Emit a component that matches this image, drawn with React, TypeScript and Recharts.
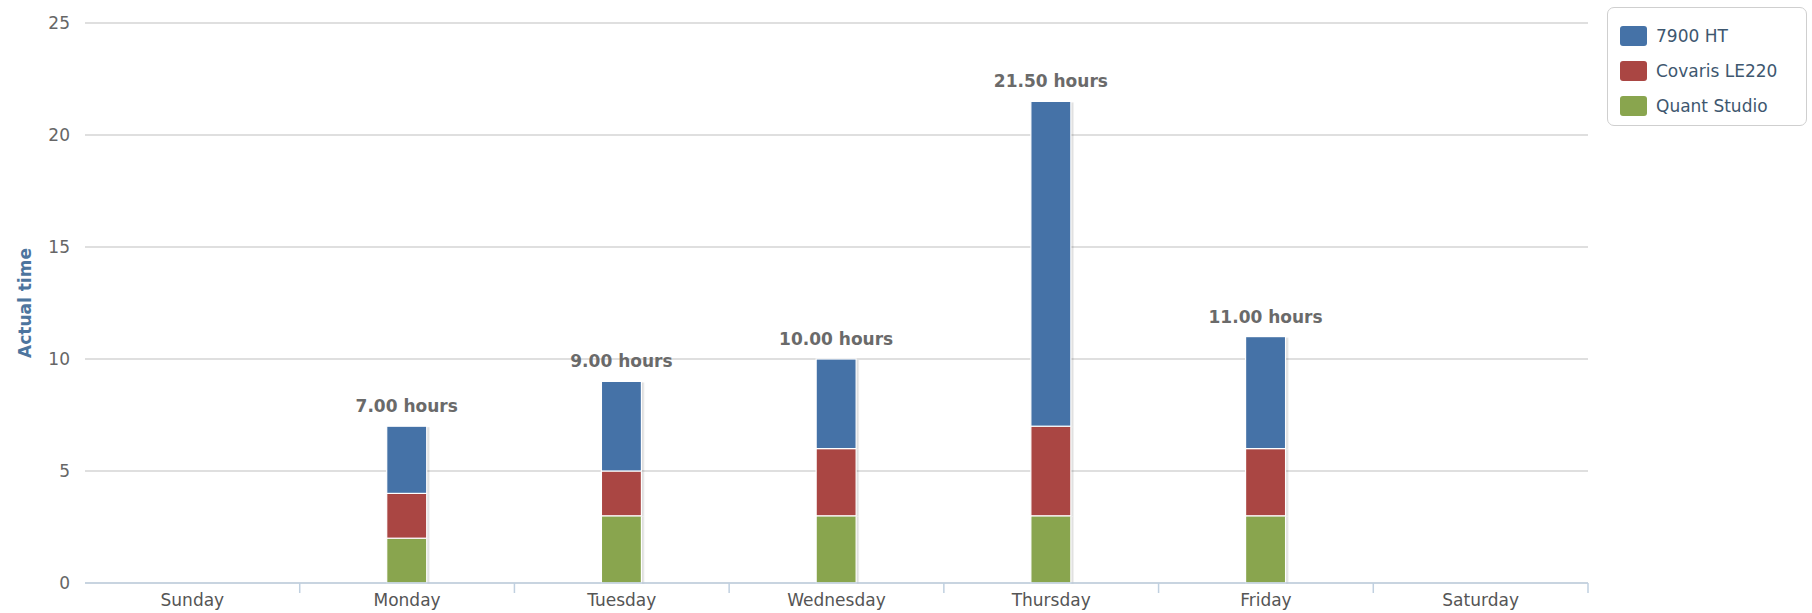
import React from 'react';
import { BarChart, Bar, XAxis, YAxis, CartesianGrid, LabelList, Label } from 'recharts';

const days = ['Sunday', 'Monday', 'Tuesday', 'Wednesday', 'Thursday', 'Friday', 'Saturday'];
const ht7900 = [0, 3, 4, 4, 14.5, 5, 0];
const covaris = [0, 2, 2, 3, 4, 3, 0];
const quant = [0, 2, 3, 3, 3, 3, 0];
const yTicks = [0, 5, 10, 15, 20, 25];

const SERIES = [
  { key: 'ht', name: '7900 HT', color: '#4572A7' },
  { key: 'cov', name: 'Covaris LE220', color: '#AA4643' },
  { key: 'qs', name: 'Quant Studio', color: '#89A54E' },
];

const data = days.map((day, i) => ({
  day,
  ht: ht7900[i] || null,
  cov: covaris[i] || null,
  qs: quant[i] || null,
  total: ht7900[i] + covaris[i] + quant[i],
}));

const WIDTH = 1812;
const HEIGHT = 613;
const MARGIN = { top: 23, right: 224, bottom: 0, left: 0 };
const Y_WIDTH = 85;
const FONT = '"DejaVu Sans", Verdana, sans-serif';
const band = (WIDTH - MARGIN.right - Y_WIDTH) / days.length;

// bar segment with a soft highcharts-like shadow
const ShadowBar = (props: any) => {
  const { x, y, width, height, fill } = props;
  if (!height || height <= 0) return null;
  return (
    <g>
      <rect x={x + 1} y={y + 1} width={width + 2} height={height} fill="rgba(0,0,0,0.07)" />
      <rect x={x + 1} y={y + 1} width={width + 1} height={height - 0.5} fill="rgba(0,0,0,0.06)" />
      <rect x={x} y={y} width={width} height={height} fill={fill} stroke="#fff" strokeWidth={1.2} />
    </g>
  );
};

const DayTick = (props: any) => {
  const { x, y, payload } = props;
  return (
    <g>
      <line x1={x + band / 2} x2={x + band / 2} y1={y - 8} y2={y + 2} stroke="#C0D0E0" strokeWidth={1.5} />
      <text x={x} y={y + 15} textAnchor="middle" fill="#555" fontSize={17} fontFamily={FONT}>
        {payload.value}
      </text>
    </g>
  );
};

const TotalLabel = (props: any) => {
  const { x, y, width, value } = props;
  if (!value) return null;
  return (
    <text
      x={x + width / 2}
      y={y - 14}
      textAnchor="middle"
      fill="#6a6a6a"
      fontSize={17}
      fontWeight="bold"
      fontFamily={FONT}
    >
      {Number(value).toFixed(2)} hours
    </text>
  );
};

const LegendBox = () => (
  <div
    style={{
      position: 'absolute',
      left: 1607,
      top: 7,
      width: 200,
      height: 119,
      border: '1px solid #cfcfcf',
      borderRadius: 7,
      boxSizing: 'border-box',
      padding: '10px 0 0 12px',
      fontFamily: FONT,
      background: '#fff',
    }}
  >
    {SERIES.map((s) => (
      <div key={s.key} style={{ display: 'flex', alignItems: 'center', height: 35 }}>
        <span style={{ width: 27, height: 20, background: s.color, borderRadius: 3, marginRight: 9 }} />
        <span style={{ fontSize: 17, color: '#3E576F' }}>{s.name}</span>
      </div>
    ))}
  </div>
);

export default function App() {
  return (
    <div style={{ position: 'absolute', left: 0, top: 0, width: WIDTH, height: HEIGHT, background: '#fff' }}>
      <BarChart width={WIDTH} height={HEIGHT} data={data} margin={MARGIN}>
        <CartesianGrid vertical={false} stroke="#D4D4D4" strokeWidth={1.5} />
        <XAxis
          dataKey="day"
          height={30}
          tickLine={false}
          axisLine={{ stroke: '#C0D0E0', strokeWidth: 1.5 }}
          tick={<DayTick />}
          interval={0}
        />
        <YAxis
          width={Y_WIDTH}
          domain={[0, 25]}
          ticks={yTicks}
          axisLine={false}
          tickLine={false}
          tickSize={0}
          tickMargin={15}
          tick={{ fill: '#666', fontSize: 17, fontFamily: FONT }}
        >
          <Label
            value="Actual time"
            angle={-90}
            position="insideLeft"
            offset={25}
            style={{ fill: '#4d759e', fontWeight: 'bold', fontSize: 17, fontFamily: FONT, textAnchor: 'middle' }}
          />
        </YAxis>
        <Bar dataKey="qs" name="Quant Studio" stackId="a" fill="#89A54E" barSize={40} shape={<ShadowBar />} isAnimationActive={false} />
        <Bar dataKey="cov" name="Covaris LE220" stackId="a" fill="#AA4643" barSize={40} shape={<ShadowBar />} isAnimationActive={false} />
        <Bar dataKey="ht" name="7900 HT" stackId="a" fill="#4572A7" barSize={40} shape={<ShadowBar />} isAnimationActive={false}>
          <LabelList dataKey="total" content={<TotalLabel />} />
        </Bar>
      </BarChart>
      <LegendBox />
    </div>
  );
}
